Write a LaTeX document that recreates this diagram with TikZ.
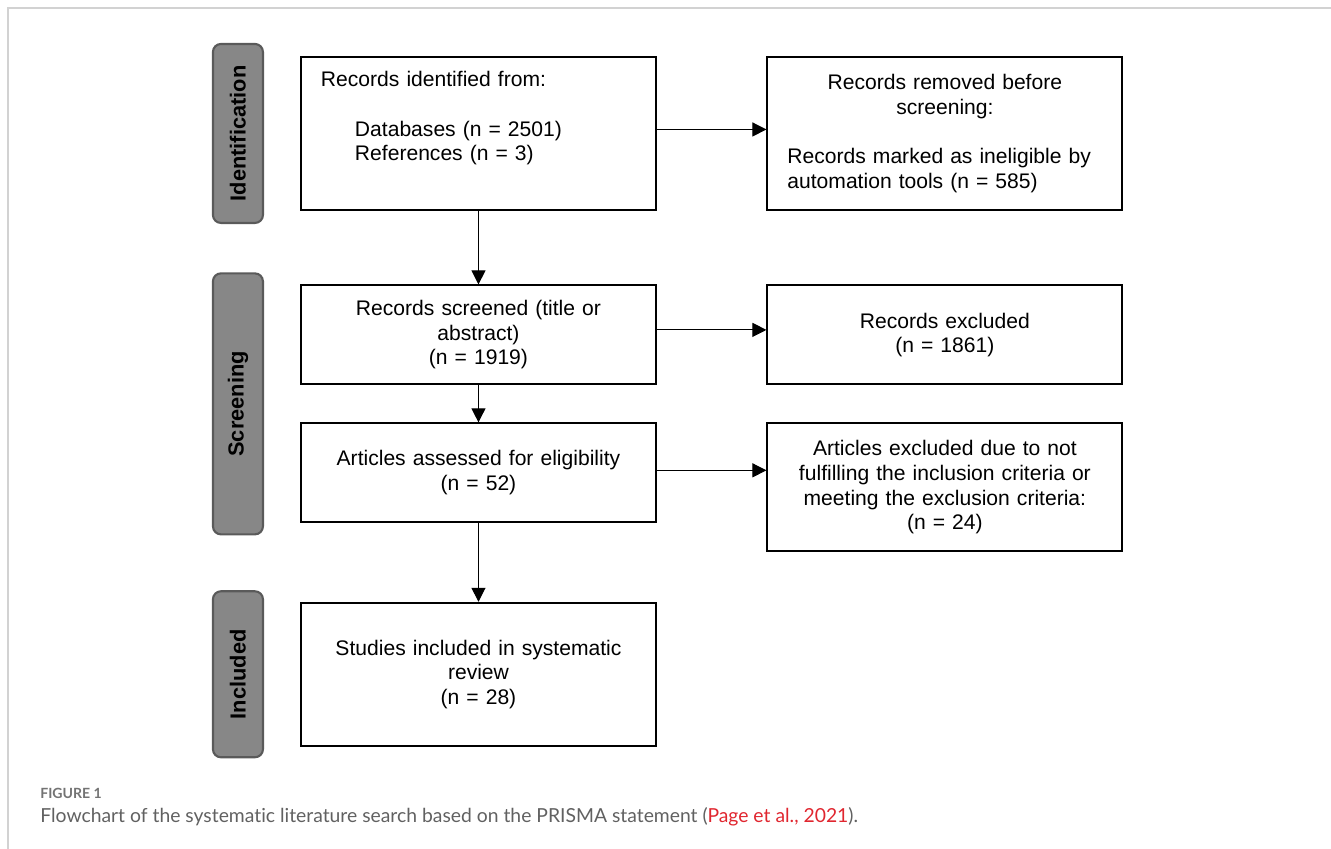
\documentclass[tikz,border=0pt]{standalone}
\usepackage{fontspec}
\setmainfont{Liberation Sans}
\newfontfamily\figcapfont[Ligatures={NoCommon}]{Lato}
\usetikzlibrary{arrows.meta, positioning, calc}
\definecolor{colorPhase}{HTML}{878787}
\definecolor{colorPhaseLine}{HTML}{5A5A5A}
\definecolor{colorFrame}{HTML}{D2D2D2}
\definecolor{colorCaption}{HTML}{616161}
\definecolor{colorCite}{HTML}{E0262F}
\tikzset{
  box/.style={draw, line width=1.1pt, minimum width=7.1cm, text width=6.3cm, inner xsep=0.4cm, inner ysep=0pt, align=center, font=\fontsize{12}{14}\selectfont},
  phase/.style={draw=colorPhaseLine, fill=colorPhase, line width=1.2pt, rounded corners=0.16cm, minimum width=1cm, inner sep=0pt, font=\fontsize{12.4}{14}\selectfont\bfseries, text=black},
  flow/.style={-{Triangle[length=0.28cm, width=0.28cm]}, line width=0.6pt},
}

\begin{document}
\begin{tikzpicture}
\useasboundingbox (0,0) rectangle (26.62,-16.98);
\draw[colorFrame, line width=1.5pt] (0.16,-16.98) -- (0.16,-0.16) -- (26.62,-0.16);
% left column
\node[box, align=left, minimum height=3.06cm, anchor=north west] (b1) at (6.0,-1.12) {Records identified from:\\[14pt]\hspace*{0.68cm}Databases (n = 2501)\\\hspace*{0.68cm}References (n = 3)\\[1.4pt]\strut};
\node[box, minimum height=1.98cm, below=1.47cm of b1] (b2) {Records screened (title or\\abstract)\\(n = 1919)};
\node[box, minimum height=1.98cm, below=0.74cm of b2] (b3) {Articles assessed for eligibility\\(n = 52)};
\node[box, minimum height=2.86cm, below=1.57cm of b3] (b4) {Studies included in systematic\\review\\(n = 28)};
% right column
\node[box, align=left, minimum height=3.06cm, right=2.19cm of b1] (r1) {\makebox[\linewidth]{Records removed before}\\\makebox[\linewidth]{screening:}\\[14pt]Records marked as ineligible by\\automation tools (n = 585)};
\node[box, minimum height=1.98cm, right=2.19cm of b2] (r2) {Records excluded\\(n = 1861)};
\node[box, minimum height=2.56cm, right=2.19cm of b3.north east, anchor=north west] (r3) {Articles excluded due to not\\fulfilling the inclusion criteria or\\meeting the exclusion criteria:\\(n = 24)};
% phases
\node[phase, minimum height=3.58cm, left=0.72cm of b1] (pIdent) {\rotatebox{90}{Identification}};
\node[phase, minimum height=5.22cm, left=0.72cm of $(b2.north west)!0.5!(b3.south west)$] (pScreen) {\rotatebox{90}{Screening}};
\node[phase, minimum height=3.32cm, left=0.72cm of b4] (pIncl) {\rotatebox{90}{Included}};
% arrows
\draw[flow] (b1.south) -- (b2.north);
\draw[flow] (b2.south) -- (b3.north);
\draw[flow] (b3.south) -- (b4.north);
\draw[flow] ([yshift=0.08cm]b1.east) -- ([yshift=0.08cm]b1.east -| r1.west);
\draw[flow] ([yshift=0.1cm]b2.east) -- ([yshift=0.1cm]b2.east -| r2.west);
\draw[flow] ([yshift=0.05cm]b3.east) -- ([yshift=0.05cm]b3.east -| r3.west);
% caption
\node[anchor=west, inner sep=0pt, font=\fontsize{8}{10}\figcapfont\bfseries, text=black!55] (figLabel) at (0.8,-15.86) {FIGURE 1};
\node[anchor=west, inner sep=0pt, font=\fontsize{11}{13}\figcapfont, text=colorCaption] (capText) at (0.8,-16.34) {Flowchart of the systematic literature search based on the PRISMA statement (\textcolor{colorCite}{Page et al., 2021}).};
\end{tikzpicture}
\end{document}
